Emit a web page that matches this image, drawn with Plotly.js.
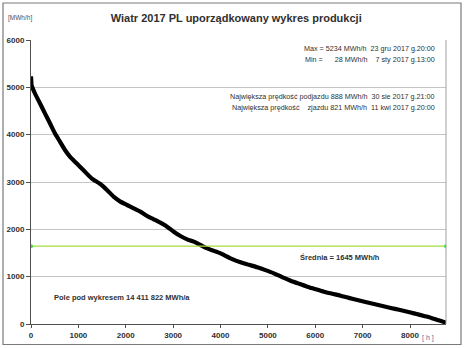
<!DOCTYPE html>
<html><head><meta charset="utf-8">
<script src="https://cdn.plot.ly/plotly-3.0.1.min.js"></script>
<style>html,body{margin:0;padding:0;background:#fff}#c{width:465px;height:348px}</style>
</head><body><div id="c"></div>
<script>
// Ordered (duration) wind production curve
const hours = [0, 5, 11, 82, 188, 294, 400, 505, 611, 717, 822, 962, 1104, 1279, 1463, 1604, 1744, 1886, 2027, 2167, 2309, 2450, 2590, 2731, 2873, 3013, 3154, 3296, 3436, 3577, 3719, 3860, 4000, 4211, 4423, 4600, 4776, 4950, 5127, 5300, 5480, 5660, 5833, 6010, 6184, 6360, 6537, 6710, 6890, 7060, 7241, 7420, 7594, 7770, 7947, 8120, 8298, 8450, 8581, 8700, 8760];
const production = [5234, 5150, 5050, 4875, 4663, 4451, 4240, 4030, 3852, 3676, 3535, 3395, 3254, 3078, 2958, 2831, 2690, 2585, 2514, 2444, 2373, 2282, 2212, 2140, 2056, 1950, 1859, 1789, 1739, 1669, 1599, 1545, 1493, 1388, 1303, 1250, 1198, 1138, 1071, 990, 915, 850, 789, 735, 683, 640, 598, 552, 507, 465, 423, 380, 338, 300, 260, 215, 169, 128, 85, 48, 28];
const meanValue = 1645;
const xRange = [0, 8760];
const xTicks = [0, 1000, 2000, 3000, 4000, 5000, 6000, 7000, 8000];
const yTicks = [0, 1000, 2000, 3000, 4000, 5000, 6000];

const L = 31, R = 19, T = 40, B = 24, W = 465, H = 348;
const pw = W - L - R, ph = H - T - B;
const px = x => (x - L) / pw;
const py = y => (H - B - y) / ph;

const txt = '#303030';
const f = (s, bold) => ({family: 'Liberation Sans, Arial, sans-serif', size: s, color: txt, weight: bold ? 'bold' : 'normal'});
const nb = s => s.replace(/ /g, '\u00a0');

const traces = [
  {x: hours, y: production, type: 'scatter', mode: 'lines',
   line: {color: '#000000', width: 4.2, shape: 'spline', smoothing: 0.6}, hoverinfo: 'skip'},
  {x: xRange, y: [meanValue, meanValue], type: 'scatter', mode: 'lines+markers',
   line: {color: '#a8dc3a', width: 1.2}, marker: {color: '#3ee03a', size: 4}, hoverinfo: 'skip'}
];

const layout = {
  width: W, height: H,
  margin: {l: L, r: R, t: T, b: B, pad: 0},
  paper_bgcolor: '#ffffff', plot_bgcolor: '#ffffff',
  showlegend: false,
  title: {text: 'Wiatr 2017 PL uporządkowany wykres produkcji', font: f(11, true),
          x: 0.508, xanchor: 'center', y: 1 - 18 / H, yanchor: 'middle'},
  xaxis: {range: xRange, tickvals: xTicks, ticktext: xTicks.map(String), showgrid: false, zeroline: false,
          showline: true, linecolor: '#505050', linewidth: 1,
          ticks: 'outside', ticklen: 3, tickcolor: '#505050', tickfont: f(8, true), fixedrange: true},
  yaxis: {range: [0, 6000], tickvals: yTicks, ticktext: yTicks.map(String), showgrid: true, gridcolor: '#c4c4c4', gridwidth: 1,
          zeroline: false, showline: true, linecolor: '#505050', linewidth: 1,
          ticks: 'outside', ticklen: 4, tickcolor: '#505050', tickfont: f(8, true), fixedrange: true},
  shapes: [
    {type: 'rect', xref: 'paper', yref: 'paper', x0: px(3), x1: px(461), y0: py(344.5), y1: py(3),
     line: {color: '#7a7a7a', width: 1.2}, fillcolor: 'rgba(0,0,0,0)', layer: 'below'},
    {type: 'line', xref: 'paper', yref: 'paper', x0: 1, x1: 1, y0: 0, y1: 1,
     line: {color: '#a0a0a0', width: 1}}
  ],
  annotations: [
    {xref: 'paper', yref: 'paper', x: px(6), y: py(18), xanchor: 'left', yanchor: 'middle', showarrow: false,
     text: '[MWh/h]', font: Object.assign(f(6.5, false), {color: '#4a5060'})},
    {xref: 'paper', yref: 'paper', x: px(420), y: py(338), xanchor: 'left', yanchor: 'middle', showarrow: false,
     text: nb('[ h ]'), font: Object.assign(f(7, false), {color: '#5a6aa0'})},
    {xref: 'paper', yref: 'paper', x: px(437), y: py(49), xanchor: 'right', yanchor: 'middle', showarrow: false,
     text: nb('Max = 5234 MWh/h  23 gru 2017 g.20:00'), font: f(7.2, false)},
    {xref: 'paper', yref: 'paper', x: px(437), y: py(59), xanchor: 'right', yanchor: 'middle', showarrow: false,
     text: nb('Min =      28 MWh/h    7 sty 2017 g.13:00'), font: f(7.2, false)},
    {xref: 'paper', yref: 'paper', x: px(437), y: py(97), xanchor: 'right', yanchor: 'middle', showarrow: false,
     text: nb('Największa prędkość podjazdu 888 MWh/h  30 sie 2017 g.21:00'), font: f(7.2, false)},
    {xref: 'paper', yref: 'paper', x: px(437), y: py(107), xanchor: 'right', yanchor: 'middle', showarrow: false,
     text: nb('Największa prędkość    zjazdu 821 MWh/h  11 kwi 2017 g.20:00'), font: f(7.2, false)},
    {xref: 'paper', yref: 'paper', x: px(298), y: py(257), xanchor: 'left', yanchor: 'middle', showarrow: false,
     text: 'Średnia = ' + meanValue + ' MWh/h', font: f(7.5, true)},
    {xref: 'paper', yref: 'paper', x: px(52), y: py(297), xanchor: 'left', yanchor: 'middle', showarrow: false,
     text: 'Pole pod wykresem 14 411 822 MWh/a', font: f(7.5, true)}
  ]
};

Plotly.newPlot('c', traces, layout, {staticPlot: true, displayModeBar: false});
</script></body></html>
